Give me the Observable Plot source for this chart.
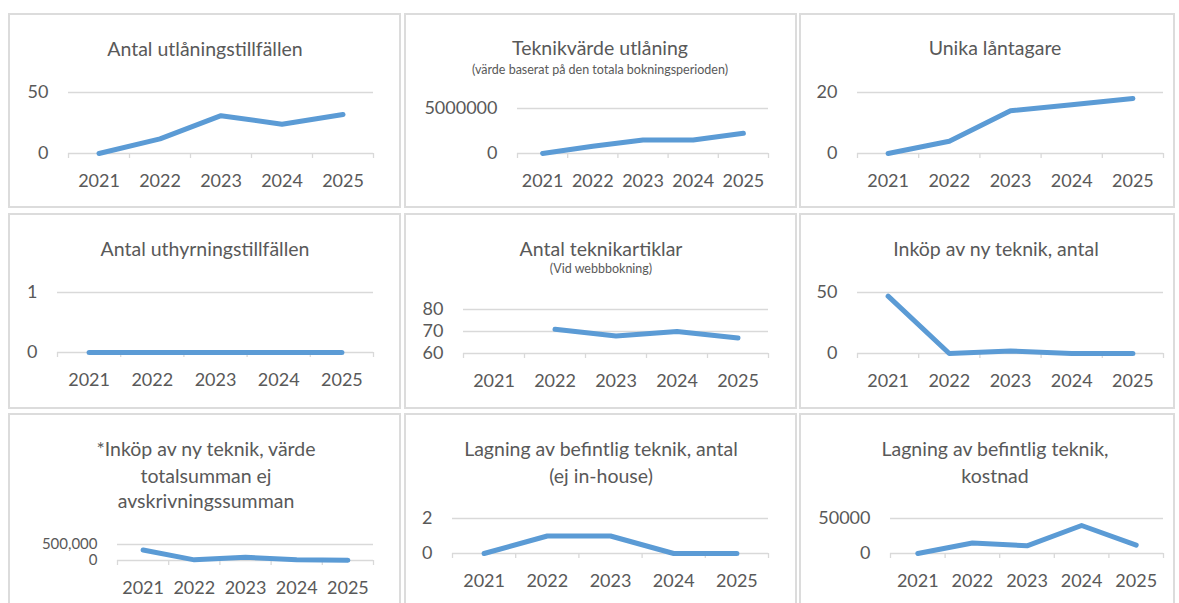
<!DOCTYPE html>
<html>
<head>
<meta charset="utf-8">
<script src="https://cdn.jsdelivr.net/npm/d3@7"></script>
<script src="https://cdn.jsdelivr.net/npm/@observablehq/plot@0.6"></script>
<style>
  html, body { margin: 0; padding: 0; background: #fff; }
  body { width: 1179px; height: 603px; overflow: hidden; position: relative; font-family: Lato, "Open Sans", sans-serif; }
  .box { position: absolute; border: 2px solid #dcdcdc; box-sizing: border-box; }
  .plotwrap { position: absolute; }
  .title { position: absolute; transform: translate(-50%, -50%); white-space: nowrap; color: #595959; font-size: 19.5px; }
  .sub { position: absolute; transform: translate(-50%, -50%); white-space: nowrap; color: #595959; font-size: 12.5px; }
</style>
</head>
<body>
<script>
// ---- data ----
const years = [2021, 2022, 2023, 2024, 2025];

const utlaningstillfallen = [0, 12, 31, 24, 32];
const teknikvardeUtlaning = [0, 800000, 1500000, 1500000, 2250000];
const unikaLantagare = [0, 4, 14, 16, 18];
const uthyrningstillfallen = [0, 0, 0, 0, 0];
const teknikartiklar = [null, 71, 68, 70, 67];
const inkopAntal = [47, 0, 2, 0, 0];
const inkopVarde = [330000, 20000, 100000, 20000, 10000];
const lagningAntal = [0, 1, 1, 0, 0];
const lagningKostnad = [0, 15000, 11000, 40000, 12000];

const titles = [
  ["Antal utlåningstillfällen"],
  ["Teknikvärde utlåning"],
  ["Unika låntagare"],
  ["Antal uthyrningstillfällen"],
  ["Antal teknikartiklar"],
  ["Inköp av ny teknik, antal"],
  ["*Inköp av ny teknik, värde", "totalsumman ej", "avskrivningssumman"],
  ["Lagning av befintlig teknik, antal", "(ej in-house)"],
  ["Lagning av befintlig teknik,", "kostnad"]
];
const subtitles = ["", "(värde baserat på den totala bokningsperioden)", "", "", "(Vid webbbokning)", "", "", "", ""];

const yTicks = [[0, 50], [0, 5000000], [0, 20], [0, 1], [60, 70, 80], [0, 50], [0, 500000], [0, 2], [0, 50000]];
const yFormats = ["d", "d", "d", "d", "d", "d", ",", "d", "d"];
const series = [utlaningstillfallen, teknikvardeUtlaning, unikaLantagare, uthyrningstillfallen, teknikartiklar, inkopAntal, inkopVarde, lagningAntal, lagningKostnad];

// ---- layout (page pixels) ----
const layout = [
  {l: 8,   t: 13,  w: 393, h: 195, x0: 68,  x1: 373,  yTop: 92,  y0: 153, tx: 205, ty: [48], sy: 0, yfs: 18},
  {l: 404, t: 13,  w: 393, h: 195, x0: 517, x1: 768,  yTop: 108, y0: 153, tx: 600, ty: [47], sy: 69, yfs: 18},
  {l: 799, t: 13,  w: 376, h: 195, x0: 857, x1: 1163, yTop: 92,  y0: 153, tx: 995, ty: [47], sy: 0, yfs: 18},
  {l: 8,   t: 213, w: 393, h: 196, x0: 57,  x1: 373,  yTop: 292, y0: 352, tx: 205, ty: [248], sy: 0, yfs: 18},
  {l: 404, t: 213, w: 393, h: 196, x0: 463, x1: 768,  yTop: 309, y0: 353, tx: 601, ty: [248], sy: 268, yfs: 18},
  {l: 799, t: 213, w: 376, h: 196, x0: 857, x1: 1163, yTop: 292, y0: 353, tx: 996, ty: [248], sy: 0, yfs: 18},
  {l: 8,   t: 413, w: 393, h: 200, x0: 117, x1: 373,  yTop: 544, y0: 560, tx: 206, ty: [448, 475, 500], sy: 0, yfs: 15},
  {l: 404, t: 413, w: 393, h: 200, x0: 452, x1: 768,  yTop: 518, y0: 553, tx: 601, ty: [448, 475], sy: 0, yfs: 18},
  {l: 799, t: 413, w: 376, h: 200, x0: 890, x1: 1163, yTop: 518, y0: 553, tx: 995, ty: [448, 475], sy: 0, yfs: 18}
];

const boundaries = years.map(y => y - 0.5).concat([years[years.length - 1] + 0.5]);

layout.forEach((L, i) => {
  const box = document.createElement("div");
  box.className = "box";
  Object.assign(box.style, {left: L.l + "px", top: L.t + "px", width: L.w + "px", height: L.h + "px"});
  document.body.appendChild(box);

  const ticks = yTicks[i];
  const ymin = ticks[0], ymax = ticks[ticks.length - 1];
  const data = years.map((year, k) => ({year, value: series[i][k]}));

  const plot = Plot.plot({
    width: L.w,
    height: L.h,
    marginLeft: L.x0 - L.l,
    marginRight: L.l + L.w - L.x1,
    marginTop: L.yTop - L.t,
    marginBottom: L.t + L.h - L.y0,
    style: {background: "transparent", fontFamily: "Lato, 'Open Sans', sans-serif", fontSize: "18px", color: "#595959", overflow: "visible"},
    x: {type: "linear", domain: [boundaries[0], boundaries[boundaries.length - 1]]},
    y: {type: "linear", domain: [ymin, ymax]},
    marks: [
      Plot.ruleY(ticks.slice(1), {stroke: "#d9d9d9", strokeWidth: 1.3}),
      Plot.ruleY([ymin], {stroke: "#d9d9d9", strokeWidth: 1.3}),
      Plot.axisX({ticks: boundaries, tickSize: 5, tickFormat: () => "", stroke: "#d9d9d9", strokeWidth: 1.3, label: null}),
      Plot.axisX({ticks: years, tickSize: 0, tickPadding: 21, tickFormat: d => String(d), label: null, fill: "#595959"}),
      Plot.axisY({ticks: ticks, tickSize: 0, tickPadding: 20, tickFormat: d3.format(yFormats[i]), label: null, fill: "#595959", fontSize: L.yfs}),
      Plot.line(data, {x: "year", y: "value", stroke: "#5b9bd5", strokeWidth: 5, strokeLinecap: "round", strokeLinejoin: "round"})
    ]
  });
  const wrap = document.createElement("div");
  wrap.className = "plotwrap";
  Object.assign(wrap.style, {left: L.l + "px", top: L.t + "px"});
  wrap.appendChild(plot);
  document.body.appendChild(wrap);

  titles[i].forEach((txt, j) => {
    const d = document.createElement("div");
    d.className = "title";
    d.textContent = txt;
    Object.assign(d.style, {left: L.tx + "px", top: L.ty[j] + "px"});
    document.body.appendChild(d);
  });
  if (subtitles[i]) {
    const s = document.createElement("div");
    s.className = "sub";
    s.textContent = subtitles[i];
    Object.assign(s.style, {left: L.tx + "px", top: L.sy + "px"});
    document.body.appendChild(s);
  }
});
</script>
</body>
</html>
